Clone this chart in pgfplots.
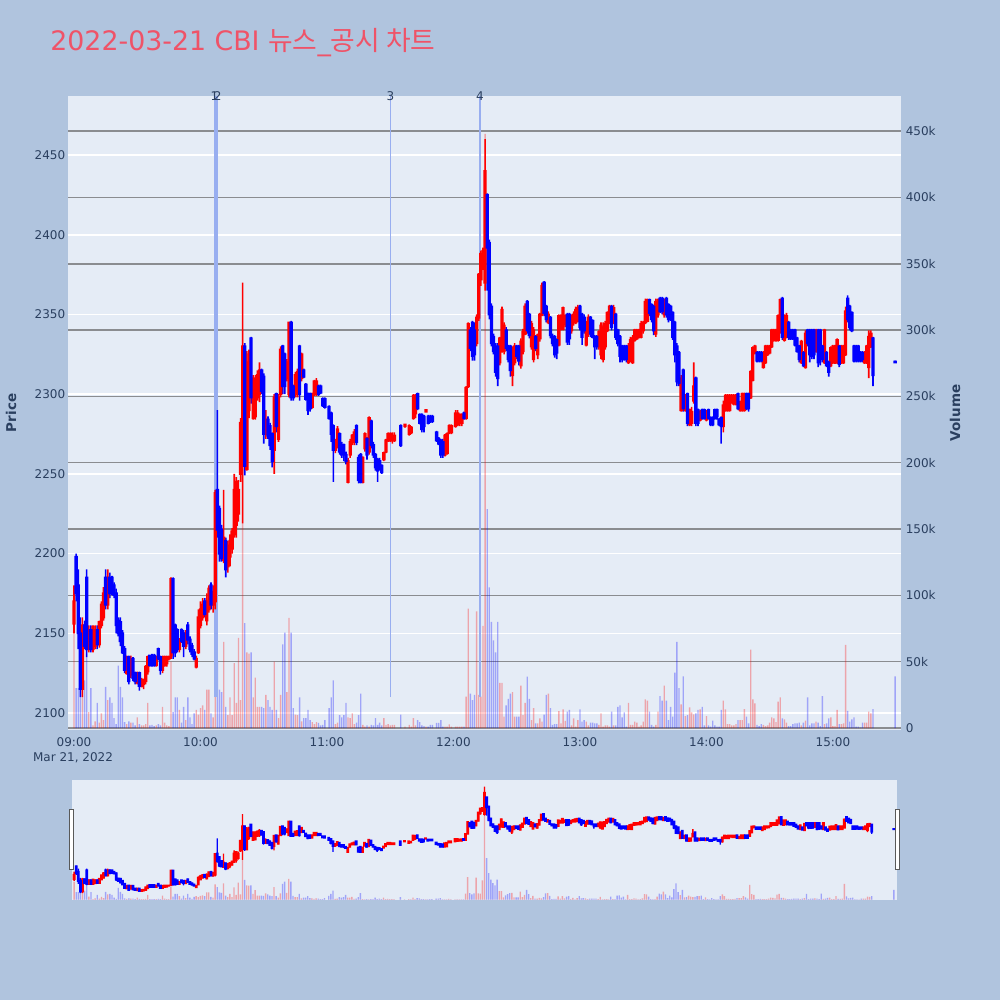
\documentclass[border=0pt]{standalone}
\usepackage{pgfplots}
\usepackage{pgfplotstable}
\pgfplotsset{compat=1.18}
\usepackage{fontspec}
\setmainfont{DejaVu Sans}
\newfontfamily\cjk{Noto Sans CJK KR}

\definecolor{pagebg}{HTML}{B0C4DE}
\definecolor{plotbg}{HTML}{E5ECF6}
\definecolor{inkcol}{HTML}{2A3F5F}
\definecolor{titlecol}{HTML}{EF5368}
\definecolor{volgrid}{HTML}{8A8C90}
\definecolor{annot}{HTML}{98AEF0}
\definecolor{upcol}{HTML}{FF0000}
\definecolor{dncol}{HTML}{0000FF}

% one-minute bars: minute after 09:00, open, high, low, close, volume (thousands)
\pgfplotstableread{
m o h l c v
0 2156 2180 2150 2170 72
1 2198 2200 2170 2175 30
2 2180 2190 2140 2150 30
3 2150 2160 2110 2115 41
4 2115 2160 2110 2155 61
5 2155 2158 2140 2142 36
6 2185 2190 2135 2140 56
7 2140 2155 2138 2152 12
8 2152 2155 2138 2140 30
9 2140 2155 2138 2154 2
10 2142 2155 2140 2152 5
11 2152 2155 2140 2143 19
12 2143 2158 2141 2157 4
13 2155 2170 2153 2168 11
14 2160 2179 2158 2175 6
15 2185 2190 2165 2168 31
16 2168 2190 2165 2185 21
17 2185 2188 2172 2175 23
18 2185 2186 2174 2176 19
19 2180 2182 2172 2174 7.5
20 2175 2178 2150 2155 3
21 2158 2160 2148 2150 47
22 2157 2160 2142 2145 31
23 2150 2152 2137 2138 23
24 2140 2142 2125 2127 4.5
25 2125 2136 2124 2134 3
26 2135 2136 2118 2120 5
27 2124 2136 2122 2134 4
28 2134 2135 2120 2122 4
29 2125 2126 2118 2120 2
30 2119 2126 2118 2125 8
31 2125 2126 2114 2117 3
32 2117 2122 2116 2120 2
33 2118 2121 2115 2121 2
34 2120 2130 2118 2129 3
35 2126 2136 2124 2135 19
36 2136 2136 2129 2130 2
37 2136 2137 2129 2130 2.3
38 2136 2137 2129 2130 1.5
39 2130 2136 2129 2135 2
40 2140 2141 2133 2134 3
41 2135 2136 2124 2127 2
42 2127 2136 2125 2134 16
43 2130 2136 2129 2135 4
44 2131 2136 2129 2135 2
45 2134 2136 2133 2135 1.5
46 2136 2185 2134 2184 50
47 2184 2185 2134 2138 12
48 2155 2156 2135 2138 23
49 2152 2153 2138 2140 23
50 2140 2147 2138 2146 13.6
51 2152 2153 2144 2145 4
52 2150 2152 2135 2142 16
53 2142 2152 2140 2150 6
54 2155 2157 2143 2146 23
55 2146 2148 2138 2140 8
56 2142 2144 2135 2137 3
57 2138 2140 2133 2134 11
58 2129 2136 2128 2134 13.6
59 2138 2165 2137 2160 10
60 2155 2170 2153 2165 15
61 2160 2172 2158 2168 17
62 2170 2172 2160 2162 13.6
63 2158 2175 2155 2170 29
64 2165 2180 2163 2178 29
65 2180 2182 2165 2168 11
66 2168 2180 2163 2176 8
67 2170 2240 2165 2238 61
68 2240 2290 2210 2215 50
69 2228 2230 2195 2200 29
70 2215 2218 2195 2197 27
71 2196 2240 2194 2210 65
72 2208 2210 2185 2190 16
73 2192 2208 2188 2205 9.8
74 2198 2212 2192 2208 23
75 2203 2216 2200 2214 9.8
76 2212 2250 2210 2240 49
77 2218 2248 2210 2245 19
78 2225 2246 2220 2240 68
79 2250 2285 2245 2282 21
80 2277 2370 2219 2330 300
81 2330 2332 2249 2255 79
82 2253 2327 2252 2320 57
83 2290 2328 2285 2325 56
84 2335 2336 2294 2298 57
85 2285 2312 2284 2310 23
86 2286 2312 2284 2310 38
87 2298 2315 2296 2312 16
88 2300 2320 2295 2315 16
89 2315 2316 2300 2302 16
90 2311 2313 2269 2275 15
91 2275 2290 2272 2284 25
92 2284 2286 2272 2274 21
93 2280 2282 2265 2268 16
94 2275 2276 2254 2258 13.6
95 2265 2300 2250 2298 50
96 2300 2301 2276 2280 13.6
97 2272 2300 2270 2298 7.5
98 2300 2330 2298 2328 25
99 2330 2331 2300 2305 63
100 2325 2326 2300 2305 72
101 2310 2322 2308 2320 27
102 2300 2345 2298 2345 83
103 2345 2346 2296 2298 72
104 2305 2306 2296 2298 15
105 2300 2314 2298 2312 10
106 2300 2316 2298 2314 9.8
107 2330 2331 2296 2300 23
108 2310 2326 2308 2325 5
109 2315 2316 2310 2311 7.5
110 2306 2307 2296 2297 7.5
111 2300 2301 2287 2290 13.6
112 2300 2301 2289 2291 6
113 2292 2301 2291 2300 4.5
114 2300 2309 2299 2308 3
115 2300 2310 2299 2308 4.5
116 2305 2306 2299 2300 3.8
117 2305 2306 2300 2301 2
118 2297 2298 2292 2293 2.3
119 2297 2298 2291 2292 6
121 2292 2293 2284 2285 15
122 2288 2289 2270 2275 23
123 2280 2281 2245 2265 36
124 2265 2272 2263 2271 3
125 2268 2280 2266 2278 4
126 2275 2276 2262 2264 9.8
127 2268 2270 2260 2262 8
128 2268 2269 2258 2262 9.8
129 2262 2264 2256 2258 19
130 2245 2260 2244 2258 8
131 2262 2272 2260 2270 7.5
132 2270 2275 2268 2274 11
133 2270 2278 2268 2276 3
134 2280 2281 2268 2270 4
135 2260 2262 2244 2246 9.8
136 2262 2263 2244 2245 26
137 2245 2261 2244 2260 2.3
138 2266 2276 2264 2275 1
139 2272 2273 2259 2262 2
140 2264 2286 2262 2285 1
141 2283 2284 2266 2268 2.3
142 2268 2270 2260 2262 2
143 2262 2263 2252 2254 7.5
144 2259 2260 2245 2252 2.3
145 2258 2260 2252 2255 4
146 2255 2256 2250 2251 2
147 2259 2264 2258 2263 7.5
148 2264 2272 2263 2271 2.3
149 2271 2276 2270 2275 3
150 2271 2276 2270 2275 2
151 2271 2276 2269 2274 2.3
152 2271 2276 2270 2274 2.3
155 2280 2281 2267 2268 10
157 2280 2281 2279 2281 1
159 2275 2281 2274 2280 2.3
160 2276 2280 2275 2279 1
161 2285 2300 2284 2299 7.5
162 2288 2300 2285 2298 2
163 2300 2301 2290 2291 6
164 2287 2288 2281 2282 4.5
165 2287 2288 2276 2278 2
166 2286 2287 2276 2280 1.5
167 2289 2290 2289 2290 1
168 2286 2287 2281 2282 1
169 2286 2287 2282 2283 2.3
170 2286 2287 2282 2283 2.3
172 2276 2277 2270 2271 3.8
173 2272 2273 2268 2269 3.8
174 2271 2272 2260 2262 6
175 2270 2272 2260 2262 1
176 2262 2275 2261 2274 1
177 2263 2276 2262 2275 1
178 2276 2281 2275 2280 2.8
179 2276 2281 2275 2280 1
181 2280 2290 2279 2288 1
182 2281 2290 2280 2288 1
183 2282 2288 2280 2286 1
184 2282 2288 2280 2287 1
185 2288 2289 2284 2285 1
186 2285 2305 2284 2304 23.6
187 2305 2345 2304 2344 90
188 2340 2342 2327 2329 26
189 2345 2346 2321 2324 21
190 2340 2345 2321 2325 25
191 2332 2350 2330 2348 88
192 2348 2376 2346 2375 25
193 2372 2390 2368 2388 23.6
194 2380 2392 2378 2390 77
195 2370 2460 2365 2440 448
196 2425 2426 2365 2392 165
197 2395 2397 2347 2350 106
198 2355 2357 2330 2332 80
199 2336 2338 2325 2327 66
200 2330 2332 2311 2314 57
201 2330 2332 2305 2310 80
202 2320 2336 2318 2335 34
203 2328 2355 2326 2353 34
204 2327 2345 2325 2343 8.5
205 2340 2342 2327 2329 17
206 2330 2331 2320 2322 22
207 2330 2331 2311 2315 26
208 2312 2330 2305 2328 27
209 2320 2332 2318 2330 8.5
210 2330 2331 2322 2324 8.5
211 2330 2331 2318 2321 8.5
212 2318 2335 2316 2333 32
213 2327 2341 2325 2339 9.8
214 2338 2357 2337 2355 19
215 2358 2359 2338 2340 38.7
216 2350 2351 2335 2337 22
217 2330 2346 2328 2344 6
218 2322 2342 2320 2340 15
219 2336 2337 2327 2329 3.5
220 2325 2338 2322 2337 3.5
221 2335 2351 2333 2350 7.3
222 2350 2370 2349 2368 4.8
223 2370 2371 2349 2351 10
224 2355 2356 2345 2347 25
225 2345 2352 2344 2350 26
226 2348 2349 2335 2337 15
227 2336 2338 2330 2332 2.3
228 2336 2337 2323 2325 3
229 2334 2335 2322 2326 3
230 2331 2350 2330 2349 12.8
231 2341 2350 2340 2348 3.5
232 2341 2355 2340 2354 14
233 2344 2350 2342 2349 5.3
234 2350 2351 2331 2333 12.3
235 2350 2351 2331 2335 13.6
236 2340 2350 2338 2348 2
237 2345 2352 2343 2350 7.3
238 2345 2355 2344 2353 1
239 2346 2356 2345 2354 6
240 2355 2356 2340 2342 14
241 2350 2351 2331 2336 4.8
242 2348 2350 2338 2340 6
243 2331 2346 2330 2344 4.8
244 2338 2350 2336 2348 2
245 2348 2349 2336 2338 4
246 2346 2347 2335 2336 4
247 2336 2337 2322 2330 3.5
248 2336 2337 2328 2330 3.5
249 2330 2340 2328 2339 2.3
250 2325 2345 2322 2343 11
251 2322 2345 2320 2342 1
252 2330 2346 2328 2344 2
253 2340 2352 2339 2351 2
254 2345 2356 2344 2355 1
255 2355 2356 2340 2342 12.3
256 2345 2356 2344 2354 2
257 2350 2351 2334 2336 2
258 2340 2341 2330 2332 16
259 2336 2337 2320 2324 17
260 2330 2331 2320 2322 8
261 2330 2331 2321 2323 11.8
262 2330 2331 2320 2322 1
263 2320 2332 2319 2330 19
264 2321 2336 2320 2334 2.3
265 2320 2337 2319 2335 2.3
266 2334 2341 2333 2340 4.8
267 2335 2341 2334 2340 4
268 2336 2341 2335 2340 1
269 2336 2346 2335 2344 2
270 2340 2346 2338 2345 4.8
271 2345 2360 2344 2358 21.6
272 2346 2360 2345 2359 20.6
273 2359 2360 2349 2351 12.3
274 2356 2357 2345 2347 2.3
275 2355 2356 2337 2340 1
276 2338 2360 2336 2358 2.3
277 2350 2360 2348 2359 12.3
278 2360 2361 2351 2352 24
279 2360 2361 2350 2352 20.6
280 2350 2360 2348 2358 32
281 2360 2361 2348 2350 20.6
282 2356 2357 2345 2347 6
283 2355 2356 2346 2348 16
284 2351 2352 2334 2336 8.5
285 2345 2346 2320 2325 41.7
286 2330 2332 2305 2308 65
287 2326 2327 2305 2307 30
288 2290 2312 2289 2310 17.8
289 2315 2316 2289 2291 39
290 2290 2300 2289 2299 9
291 2300 2301 2280 2282 9.8
292 2281 2291 2280 2290 15.6
293 2282 2292 2280 2289 11.8
294 2296 2320 2294 2305 10.3
295 2310 2311 2280 2282 11
296 2290 2291 2280 2282 13.6
297 2284 2290 2283 2289 14
298 2290 2291 2284 2285 16
299 2290 2291 2284 2285 2
300 2284 2290 2283 2289 9
301 2290 2291 2284 2285 2
302 2285 2286 2280 2281 1
303 2285 2286 2280 2281 5.5
304 2290 2291 2284 2285 2
305 2290 2291 2284 2286 1
306 2284 2285 2280 2281 1
307 2285 2286 2269 2280 13.6
308 2280 2296 2276 2293 20.6
309 2290 2300 2289 2299 14
310 2290 2300 2289 2298 3
311 2290 2300 2289 2299 3
312 2295 2300 2294 2299 2
313 2294 2300 2293 2299 2
314 2294 2300 2293 2299 3
315 2300 2301 2290 2291 6
316 2290 2296 2289 2295 6
317 2290 2301 2289 2300 6
318 2290 2301 2289 2300 14.3
319 2300 2301 2290 2291 8.5
320 2300 2301 2289 2291 3.5
321 2298 2315 2297 2314 59
322 2309 2330 2308 2329 21.6
323 2326 2331 2325 2330 18.6
324 2326 2327 2320 2321 2.3
325 2326 2327 2320 2321 1.5
326 2326 2327 2320 2321 3
327 2317 2327 2316 2326 2.3
328 2320 2331 2319 2330 1.5
329 2325 2331 2324 2330 2
330 2326 2331 2325 2330 4
331 2330 2341 2329 2340 8
332 2334 2341 2333 2340 7.3
333 2334 2341 2333 2340 4.5
334 2334 2350 2333 2349 19.8
335 2339 2360 2338 2359 23
336 2360 2361 2334 2336 7.3
337 2334 2350 2333 2349 6.5
338 2336 2351 2335 2349 4
339 2345 2346 2334 2336 1.5
340 2340 2341 2334 2335 1.5
341 2340 2341 2334 2335 3
342 2340 2341 2330 2331 3.5
343 2335 2336 2326 2327 3.5
344 2330 2331 2320 2322 4
345 2320 2334 2319 2333 2
346 2326 2327 2317 2318 4
347 2317 2340 2316 2338 5.5
348 2340 2341 2330 2332 23
349 2340 2341 2320 2325 2
350 2340 2341 2322 2324 3.5
351 2340 2341 2322 2325 3.5
352 2327 2341 2326 2340 4.8
353 2340 2341 2317 2320 4
354 2340 2341 2318 2322 1.5
355 2330 2331 2320 2322 24
356 2320 2341 2319 2340 3
357 2326 2327 2317 2318 3.5
358 2320 2321 2311 2314 7.3
359 2318 2330 2317 2329 8
360 2320 2331 2319 2330 1.5
361 2320 2331 2319 2330 1.5
362 2320 2335 2319 2334 13.6
363 2330 2331 2317 2319 3
364 2320 2331 2319 2330 3
365 2320 2331 2319 2330 3.5
366 2325 2355 2324 2352 62.6
367 2360 2362 2345 2347 13
368 2355 2356 2340 2342 4.8
369 2351 2352 2339 2340 6.5
370 2330 2331 2320 2321 8
371 2330 2331 2320 2321 1
372 2330 2331 2320 2322 1
373 2326 2327 2320 2321 0.3
374 2326 2327 2320 2322 4
375 2320 2327 2319 2326 4
376 2320 2331 2319 2330 4
377 2317 2340 2310 2336 12.3
378 2330 2340 2329 2338 11
379 2335 2336 2305 2312 14.3
389.5 2320.5 2321 2320 2320 39
}\bars

\tikzset{ticktext/.style={font=\fontsize{6}{7}\selectfont, text=inkcol}}

\pgfplotsset{
  volbar/.style={ybar, bar width=0.65, bar shift=0pt, draw=none, fill=#1, fill opacity=0.3, forget plot},
  mainframe/.style={at={(34pt,135pt)}, anchor=south west, scale only axis,
    width=416.5pt, height=317pt, xmin=-2.85, xmax=392.3},
  sliderframe/.style={at={(36pt,50pt)}, anchor=south west, scale only axis,
    width=412.5pt, height=60pt, xmin=-1, xmax=391, hide axis},
  % stacked bars: an invisible base up to the low end, then the visible segment
  layer/.style={mainframe, ymin=2089.3, ymax=2487.1, hide axis, ybar stacked},
  slayer/.style={sliderframe, ymin=2087, ymax=2482, ybar stacked},
  base/.style={draw=none, fill=none, forget plot},
  seg/.style={draw=none, fill=#1, forget plot},
}

\begin{document}
\begin{tikzpicture}
\useasboundingbox (0,0) rectangle (500pt,500pt);
\fill[pagebg] (-2pt,-2pt) rectangle (502pt,502pt);

% price frame: background, white price grid, time axis
\begin{axis}[mainframe,
  ymin=2089.3, ymax=2487.1,
  axis background/.style={fill=plotbg},
  axis line style={draw=none}, major tick length=0pt,
  xtick={0,60,...,360},
  xticklabels={09:00,10:00,11:00,12:00,13:00,14:00,15:00},
  ytick={2100,2150,...,2450},
  yticklabels={2100,2150,2200,2250,2300,2350,2400,2450},
  ymajorgrids, major grid style={draw=white, line width=0.75pt},
  tick label style={ticktext},
  yticklabel style={anchor=east, inner sep=0pt, xshift=-1.2pt},
  xticklabel style={anchor=north, inner sep=0pt, yshift=-3.8pt},
]
\addplot[draw=none, forget plot] coordinates {(0,2100)};
\end{axis}

% volume on the right-hand scale
\begin{axis}[mainframe,
  ymin=-1.5, ymax=476.5,
  axis line style={draw=none}, major tick length=0pt,
  xtick=\empty,
  ytick={50,100,...,450},
  yticklabels={50k,100k,150k,200k,250k,300k,350k,400k,450k},
  extra y ticks={0}, extra y tick labels={0},
  extra y tick style={grid style={draw=white, line width=1pt}},
  yticklabel pos=right,
  ymajorgrids, major grid style={draw=volgrid, line width=0.75pt},
  tick label style={ticktext},
  yticklabel style={anchor=west, inner sep=0pt, xshift=2.2pt},
]
\addplot[volbar=upcol] table[x=m, y expr={\thisrow{c}>=\thisrow{o} ? \thisrow{v} : 0}]{\bars};
\addplot[volbar=dncol] table[x=m, y expr={\thisrow{c}<\thisrow{o} ? \thisrow{v} : 0}]{\bars};
\end{axis}

% news markers
\begin{axis}[mainframe, ymin=2089.3, ymax=2487.1, hide axis, clip=false]
\addplot[annot, line width=0.7pt, forget plot] coordinates {(66.9,2110) (66.9,2487.1)};
\addplot[annot, line width=0.7pt, forget plot] coordinates {(67.8,2110) (67.8,2487.1)};
\addplot[annot, line width=0.7pt, forget plot] coordinates {(150.1,2110) (150.1,2487.1)};
\addplot[annot, line width=0.7pt, forget plot] coordinates {(192.6,2110) (192.6,2487.1)};
\node[ticktext] at (axis cs:66.6,2487.1) {1};
\node[ticktext] at (axis cs:68.1,2487.1) {2};
\node[ticktext] at (axis cs:150.1,2487.1) {3};
\node[ticktext] at (axis cs:192.6,2487.1) {4};
\end{axis}

% candlesticks: wicks (low to high)
\begin{axis}[layer, bar width=0.8pt]
\addplot[base] table[x=m, y=l]{\bars};
\addplot[seg=upcol] table[x=m, y expr={\thisrow{c}>=\thisrow{o} ? \thisrow{h}-\thisrow{l} : 0}]{\bars};
\end{axis}
\begin{axis}[layer, bar width=0.8pt]
\addplot[base] table[x=m, y=l]{\bars};
\addplot[seg=dncol] table[x=m, y expr={\thisrow{c}<\thisrow{o} ? \thisrow{h}-\thisrow{l} : 0}]{\bars};
\end{axis}
% candlesticks: bodies (open to close)
\begin{axis}[layer, bar width=1.65pt]
\addplot[base] table[x=m, y expr={min(\thisrow{o},\thisrow{c})-0.6}]{\bars};
\addplot[seg=upcol] table[x=m, y expr={\thisrow{c}>=\thisrow{o} ? abs(\thisrow{c}-\thisrow{o})+1.2 : 0}]{\bars};
\end{axis}
\begin{axis}[layer, bar width=1.65pt]
\addplot[base] table[x=m, y expr={min(\thisrow{o},\thisrow{c})-0.6}]{\bars};
\addplot[seg=dncol] table[x=m, y expr={\thisrow{c}<\thisrow{o} ? abs(\thisrow{c}-\thisrow{o})+1.2 : 0}]{\bars};
\end{axis}

% range slider overview
\fill[plotbg] (36pt,50pt) rectangle (448.5pt,110pt);
\begin{axis}[sliderframe, ymin=-1.5, ymax=476.5]
\addplot[volbar=upcol] table[x=m, y expr={\thisrow{c}>=\thisrow{o} ? \thisrow{v} : 0}]{\bars};
\addplot[volbar=dncol] table[x=m, y expr={\thisrow{c}<\thisrow{o} ? \thisrow{v} : 0}]{\bars};
\end{axis}
\begin{axis}[slayer, bar width=0.7pt]
\addplot[base] table[x=m, y=l]{\bars};
\addplot[seg=upcol] table[x=m, y expr={\thisrow{c}>=\thisrow{o} ? \thisrow{h}-\thisrow{l} : 0}]{\bars};
\end{axis}
\begin{axis}[slayer, bar width=0.7pt]
\addplot[base] table[x=m, y=l]{\bars};
\addplot[seg=dncol] table[x=m, y expr={\thisrow{c}<\thisrow{o} ? \thisrow{h}-\thisrow{l} : 0}]{\bars};
\end{axis}
\begin{axis}[slayer, bar width=1.4pt]
\addplot[base] table[x=m, y expr={min(\thisrow{o},\thisrow{c})-3}]{\bars};
\addplot[seg=upcol] table[x=m, y expr={\thisrow{c}>=\thisrow{o} ? abs(\thisrow{c}-\thisrow{o})+6 : 0}]{\bars};
\end{axis}
\begin{axis}[slayer, bar width=1.4pt]
\addplot[base] table[x=m, y expr={min(\thisrow{o},\thisrow{c})-3}]{\bars};
\addplot[seg=dncol] table[x=m, y expr={\thisrow{c}<\thisrow{o} ? abs(\thisrow{c}-\thisrow{o})+6 : 0}]{\bars};
\end{axis}
\draw[fill=white, draw=black!65, line width=0.5pt] (34.7pt,65pt) rectangle (36.7pt,95pt);
\draw[fill=white, draw=black!65, line width=0.5pt] (447.6pt,65pt) rectangle (449.6pt,95pt);

% titles and axis captions
\node[anchor=base west, inner sep=0pt, text=titlecol, font=\fontsize{13.4}{15}\selectfont]
  at (25pt,474.5pt) {2022-03-21 CBI {\cjk 뉴스}\_{\cjk 공시 차트}};
\node[rotate=90, text=inkcol, font=\fontsize{6.75}{8}\selectfont\bfseries] at (5.5pt,293.5pt) {Price};
\node[rotate=90, text=inkcol, font=\fontsize{6.75}{8}\selectfont\bfseries] at (477.5pt,293.5pt) {Volume};
\node[ticktext, inner sep=0pt] at (36.5pt,121pt) {Mar 21, 2022};
\end{tikzpicture}
\end{document}
